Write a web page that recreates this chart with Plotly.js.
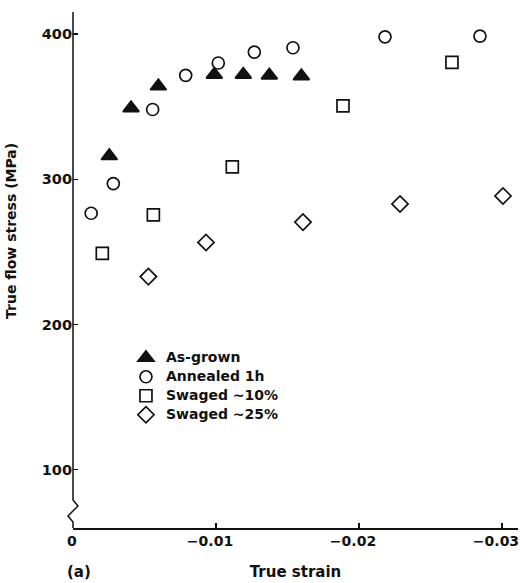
<!DOCTYPE html>
<html>
<head>
<meta charset="utf-8">
<script src="https://cdn.plot.ly/plotly-3.0.1.min.js"></script>
<style>html,body{margin:0;padding:0;background:#fff;}#chart{width:520px;height:583px;}</style>
</head>
<body>
<div id="chart"></div>
<script>
// Series names
var seriesNames = ["As-grown", "Annealed 1h", "Swaged ~10%", "Swaged ~25%"];

// True strain (x) and true flow stress in MPa (y)
var asGrownX = [-0.00254, -0.00406, -0.00597, -0.00988, -0.01191, -0.01373, -0.01597];
var asGrownY = [316, 349, 364, 372, 372, 371.5, 371];

var annealedX = [-0.00127, -0.00282, -0.00557, -0.00788, -0.01016, -0.01268, -0.01538, -0.02182, -0.02846];
var annealedY = [276.6, 297, 348, 371.5, 380, 387.5, 390.5, 398, 398.5];

var swaged10X = [-0.00205, -0.00562, -0.01114, -0.01888, -0.0265];
var swaged10Y = [249, 275.5, 308.5, 350.5, 380.5];

var swaged25X = [-0.00527, -0.0093, -0.01608, -0.02287, -0.03007];
var swaged25Y = [233, 256.5, 270.5, 283, 288.5];

// Axis ticks
var xTickVals = [0, -0.01, -0.02, -0.03];
var xTickText = ["\u20070", "\u22120.01", "\u22120.02", "\u22120.03"];
var yTickVals = [100, 200, 300, 400];
var yTickText = ["100", "200", "300", "400"];

var FONT = "DejaVu Sans, Liberation Sans, sans-serif";
var INK = "#111";

function series(name, xs, ys, symbol, size) {
  return {
    type: "scatter", mode: "markers",
    name: "<span style='font-size:14px'>" + name + "</span>",
    x: xs, y: ys,
    marker: {symbol: symbol, size: size, color: INK, line: {color: INK, width: 1.7}},
    cliponaxis: false, hoverinfo: "x+y"
  };
}

var data = [
  series(seriesNames[0], asGrownX, asGrownY, "triangle-up", 14),
  series(seriesNames[1], annealedX, annealedY, "circle-open", 12),
  series(seriesNames[2], swaged10X, swaged10Y, "square-open", 12),
  series(seriesNames[3], swaged25X, swaged25Y, "diamond-open", 12.5)
];

var layout = {
  width: 520, height: 583,
  margin: {l: 73, r: 2, t: 12, b: 55, pad: 0},
  paper_bgcolor: "#fff", plot_bgcolor: "#fff",
  font: {family: FONT, size: 14, color: INK, weight: "bold"},
  showlegend: true,
  legend: {
    x: 0.119, y: 0.358, xanchor: "left", yanchor: "top",
    bgcolor: "rgba(0,0,0,0)", borderwidth: 0,
    font: {family: FONT, size: 11, color: INK, weight: "bold"},
    itemwidth: 30
  },
  xaxis: {
    range: [0, -0.03112], autorange: false,
    showgrid: false, zeroline: false,
    showline: true, linecolor: INK, linewidth: 1.5,
    ticks: "inside", ticklen: 5, tickwidth: 1.2, tickcolor: INK,
    tickmode: "array", tickvals: xTickVals, ticktext: xTickText,
    ticklabelshift: 6, ticklabeloverflow: "allow",
    tickfont: {family: FONT, size: 14, color: INK, weight: "bold"},
    title: {text: "True strain", font: {family: FONT, size: 15, color: INK, weight: "bold"}, standoff: 18}
  },
  yaxis: {
    range: [60, 415.1], autorange: false,
    showgrid: false, zeroline: false,
    showline: false,
    ticks: "inside", ticklen: 5, tickwidth: 1.2, tickcolor: INK,
    tickmode: "array", tickvals: yTickVals, ticktext: yTickText,
    tickfont: {family: FONT, size: 14.5, color: INK, weight: "bold"}
  },
  shapes: [
    {
      type: "path", xref: "paper", yref: "y", layer: "above",
      path: "M 0,415.1 L 0,79.3 L 0.0112,75.2 L -0.0112,68.3 L 0,64.1 L 0,60",
      line: {color: INK, width: 1.5}
    }
  ],
  annotations: [
    {
      text: "True flow stress (MPa)", xref: "paper", yref: "paper",
      x: -0.138, y: 0.575, xanchor: "center", yanchor: "middle",
      textangle: -90, showarrow: false,
      font: {family: FONT, size: 14, color: INK, weight: "bold"}
    },
    {
      text: "(a)", xref: "paper", yref: "paper",
      x: 0.013, y: -0.086, xanchor: "center", yanchor: "middle",
      showarrow: false,
      font: {family: FONT, size: 15, color: INK, weight: "bold"}
    }
  ]
};

Plotly.newPlot("chart", data, layout, {staticPlot: true, displayModeBar: false});
</script>
</body>
</html>
